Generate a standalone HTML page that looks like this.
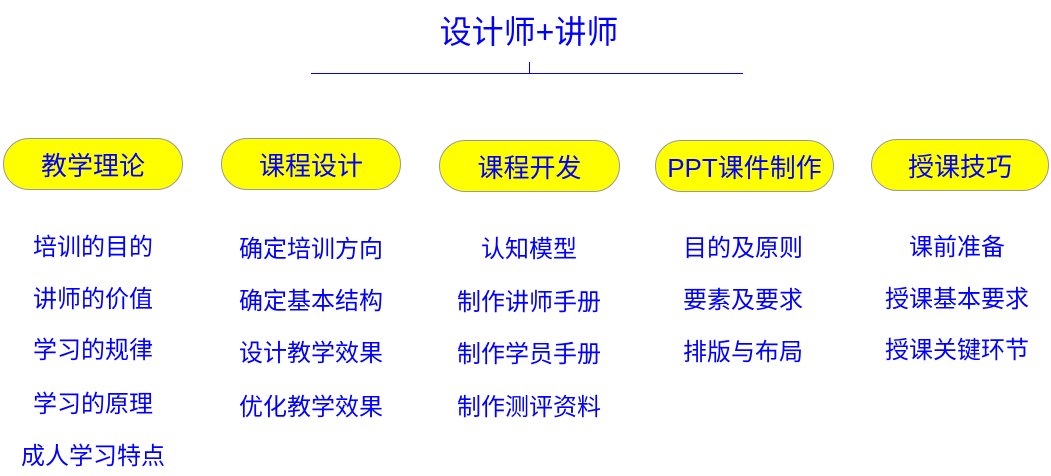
<!DOCTYPE html>
<html><head><meta charset="utf-8"><style>
body{margin:0;width:1051px;height:476px;background:#fff;position:relative;overflow:hidden;font-family:"Liberation Sans","Noto Sans CJK SC",sans-serif;color:#0000ff}
.t{position:absolute;white-space:nowrap;transform:translate(-50%,-50%);line-height:1;margin-top:2px}
.p{position:absolute;background:#ffff00;border:1px solid #999;border-radius:27px;height:52px;display:flex;align-items:center;justify-content:center;font-size:26px;color:#0000ff;box-sizing:border-box}
.i{font-size:24px}
.ln{position:absolute;background:#0000ff}
</style></head><body>
<div class="t" style="left:529px;top:30px;font-size:32px">设计师+讲师</div>
<div class="ln" style="left:311px;top:73px;width:432px;height:1px"></div>
<div class="ln" style="left:529px;top:62px;width:1px;height:11px"></div>
<div class="p" style="left:3px;top:138px;width:180px">教学理论</div>
<div class="p" style="left:221px;top:138px;width:180px">课程设计</div>
<div class="p" style="left:439px;top:140px;width:181px">课程开发</div>
<div class="p" style="left:655px;top:140px;width:179px">PPT课件制作</div>
<div class="p" style="left:871px;top:139px;width:178px">授课技巧</div>
<div class="t i" style="left:93px;top:246px">培训的目的</div>
<div class="t i" style="left:93px;top:298px">讲师的价值</div>
<div class="t i" style="left:93px;top:349px">学习的规律</div>
<div class="t i" style="left:93px;top:403px">学习的原理</div>
<div class="t i" style="left:93px;top:455px">成人学习特点</div>
<div class="t i" style="left:311px;top:248px">确定培训方向</div>
<div class="t i" style="left:311px;top:300px">确定基本结构</div>
<div class="t i" style="left:311px;top:352px">设计教学效果</div>
<div class="t i" style="left:311px;top:406px">优化教学效果</div>
<div class="t i" style="left:529px;top:248px">认知模型</div>
<div class="t i" style="left:529px;top:301px">制作讲师手册</div>
<div class="t i" style="left:529px;top:353px">制作学员手册</div>
<div class="t i" style="left:529px;top:406px">制作测评资料</div>
<div class="t i" style="left:743px;top:247px">目的及原则</div>
<div class="t i" style="left:743px;top:299px">要素及要求</div>
<div class="t i" style="left:743px;top:351px">排版与布局</div>
<div class="t i" style="left:957px;top:246px">课前准备</div>
<div class="t i" style="left:957px;top:298px">授课基本要求</div>
<div class="t i" style="left:957px;top:349px">授课关键环节</div>
</body></html>
